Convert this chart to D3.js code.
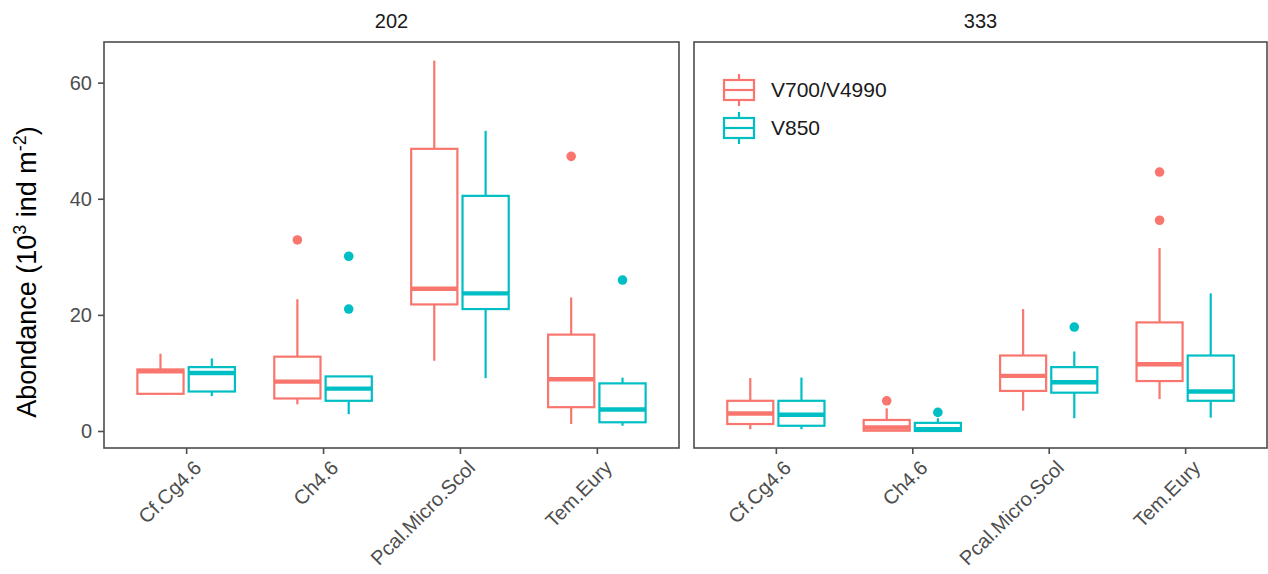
<!DOCTYPE html>
<html><head><meta charset="utf-8">
<script src="https://cdn.jsdelivr.net/npm/d3@7"></script>
<style>body{margin:0;background:#fff}svg{display:block}</style>
</head><body><svg id="c" width="1268" height="574"></svg>
<script>
const categories = ["Cf.Cg4.6","Ch4.6","Pcal.Micro.Scol","Tem.Eury"];
const panels = ["202","333"];
const series = ["V700/V4990","V850"];
const colors = ["#F8766D","#00BFC4"];
const yTicks = [0,20,40,60];

// [lower whisker, Q1, median, Q3, upper whisker] per category
const p202_V700 = [[6.2,6.4,10.3,10.6,13.3],[4.6,5.6,8.5,12.8,22.7],[12.1,21.8,24.5,48.6,63.8],[1.2,4.1,8.9,16.6,23.0]];
const p202_V850 = [[6.0,6.8,10.0,11.0,12.5],[2.9,5.2,7.3,9.4,9.4],[9.1,21.0,23.7,40.5,51.7],[0.9,1.5,3.7,8.2,9.2]];
const p333_V700 = [[0.3,1.2,3.0,5.2,9.1],[0.0,0.05,0.6,1.9,3.9],[3.5,6.9,9.5,13.0,21.0],[5.5,8.6,11.5,18.7,31.5]];
const p333_V850 = [[0.3,0.9,2.8,5.2,9.2],[0.0,0.0,0.3,1.4,2.2],[2.2,6.6,8.4,11.0,13.7],[2.3,5.2,6.8,13.0,23.7]];
// outliers per category
const o202_V700 = [[],[32.9],[],[47.3]];
const o202_V850 = [[],[30.1,21.0],[],[26.0]];
const o333_V700 = [[],[5.2],[],[44.6,36.3]];
const o333_V850 = [[],[3.2],[17.9],[]];

const stats = {"202":[p202_V700,p202_V850],"333":[p333_V700,p333_V850]};
const outl = {"202":[o202_V700,o202_V850],"333":[o333_V700,o333_V850]};

const svg = d3.select("#c");
svg.append("rect").attr("width",1268).attr("height",574).attr("fill","#fff");
const panelTop = 42, panelBottom = 448;
const panelX = [[104,679],[694,1267]];
const y = d3.scaleLinear().domain([-2.93,67.0]).range([panelBottom,panelTop]);
const border = "#4d4d4d";
const FONT = "Liberation Sans, Arial, sans-serif";

panels.forEach((p,pi)=>{
  const [x0,x1] = panelX[pi];
  const x = d3.scalePoint().domain(categories).range([x0,x1]).padding(0.6);
  const step = x.step();
  const g = svg.append("g");
  svg.append("text").attr("x",(x0+x1)/2).attr("y",28).attr("text-anchor","middle")
    .attr("font-family",FONT).attr("font-size",20).attr("fill","#1a1a1a").text(p);
  series.forEach((s,si)=>{
    const off = (si===0?-1:1)*0.1875*step;
    const bw = 0.3375*step;
    categories.forEach((c,ci)=>{
      const [lo,q1,md,q3,hi] = stats[p][si][ci];
      const cx = x(c)+off;
      const col = colors[si];
      g.append("line").attr("x1",cx).attr("x2",cx).attr("y1",y(q3)).attr("y2",y(hi)).attr("stroke",col).attr("stroke-width",2.2);
      g.append("line").attr("x1",cx).attr("x2",cx).attr("y1",y(q1)).attr("y2",y(lo)).attr("stroke",col).attr("stroke-width",2.2);
      g.append("rect").attr("x",cx-bw/2).attr("width",bw).attr("y",y(q3)).attr("height",Math.max(0,y(q1)-y(q3)))
        .attr("fill","#fff").attr("stroke",col).attr("stroke-width",2.2);
      g.append("line").attr("x1",cx-bw/2).attr("x2",cx+bw/2).attr("y1",y(md)).attr("y2",y(md)).attr("stroke",col).attr("stroke-width",4.4);
      outl[p][si][ci].forEach(v=>{
        g.append("circle").attr("cx",cx).attr("cy",y(v)).attr("r",4.8).attr("fill",col);
      });
    });
  });
  svg.append("rect").attr("x",x0).attr("y",panelTop).attr("width",x1-x0).attr("height",panelBottom-panelTop)
    .attr("fill","none").attr("stroke",border).attr("stroke-width",1.6);
  const ax = svg.append("g").attr("transform",`translate(0,${panelBottom})`).call(d3.axisBottom(x).tickSize(6));
  ax.select(".domain").remove();
  ax.selectAll("line").attr("stroke",border).attr("stroke-width",1.6);
  ax.selectAll("text").attr("font-family",FONT).attr("font-size",20).attr("fill","#4d4d4d")
    .attr("text-anchor","end").attr("x",0).attr("y",0).attr("dy","0.71em").attr("transform","translate(6,11) rotate(-45)");
  if(pi===0){
    const ay = svg.append("g").attr("transform",`translate(${x0},0)`).call(d3.axisLeft(y).tickValues(yTicks).tickSize(6).tickPadding(6));
    ay.select(".domain").remove();
    ay.selectAll("line").attr("stroke",border).attr("stroke-width",1.6);
    ay.selectAll("text").attr("font-family",FONT).attr("font-size",20).attr("fill","#4d4d4d");
  }
});

// legend
series.forEach((s,si)=>{
  const cy = 90 + si*38, cx = 739, col = colors[si];
  const lg = svg.append("g");
  lg.append("line").attr("x1",cx).attr("x2",cx).attr("y1",cy-16).attr("y2",cy+16).attr("stroke",col).attr("stroke-width",2.2);
  lg.append("rect").attr("x",cx-15).attr("y",cy-10).attr("width",30).attr("height",20).attr("fill","#fff").attr("stroke",col).attr("stroke-width",2.2);
  lg.append("line").attr("x1",cx-15).attr("x2",cx+15).attr("y1",cy).attr("y2",cy).attr("stroke",col).attr("stroke-width",2.2);
  lg.append("text").attr("x",771).attr("y",cy).attr("dy","0.35em").attr("font-family",FONT)
    .attr("font-size",21).attr("fill","#1a1a1a").text(s);
});

// y title
const t = svg.append("text").attr("transform","translate(36,272) rotate(-90)").attr("text-anchor","middle")
  .attr("font-family",FONT).attr("font-size",27).attr("fill","#000");
t.append("tspan").text("Abondance (10");
t.append("tspan").attr("font-size",18).attr("dy",-10).text("3");
t.append("tspan").attr("dy",10).text(" ind m");
t.append("tspan").attr("font-size",18).attr("dy",-10).text("-2");
t.append("tspan").attr("dy",10).text(")");
</script></body></html>
